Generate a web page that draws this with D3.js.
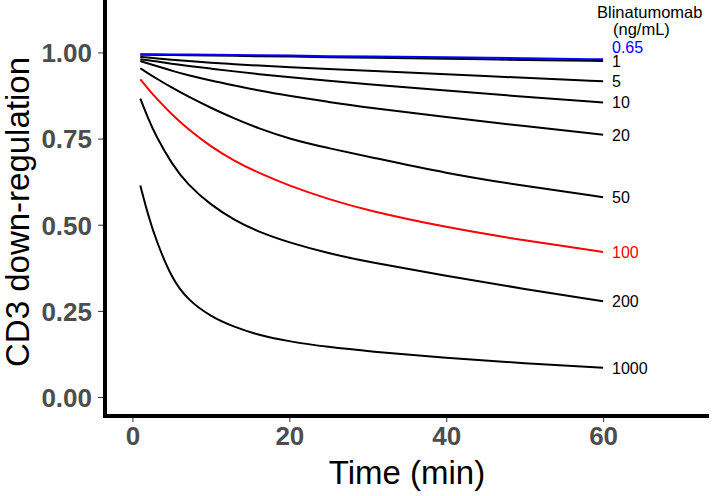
<!DOCTYPE html>
<html>
<head>
<meta charset="utf-8">
<script src="https://cdn.jsdelivr.net/npm/d3@7"></script>
<style>
  body { margin: 0; background: #fff; }
  svg { display: block; font-family: "Liberation Sans", Arial, sans-serif; }
</style>
</head>
<body>
<div class="js-chart"></div>
<script>
(function() {
  // time points (min) at which the curves were read
  var times = [1, 2, 3, 5, 7, 10, 13, 16, 20, 25, 30, 40, 50, 60];

  // concentration labels (ng/mL)
  var concentrations = ['0.65', '1', '5', '10', '20', '50', '100', '200', '1000'];

  var conc065  = [.995, .995, .995, .994, .994, .993, .992, .992, .991, .989, .988, .986, .983, .980]
    , conc1    = [.993, .993, .993, .992, .992, .991, .990, .989, .988, .986, .985, .982, .978, .975]
    , conc5    = [.987, .985, .983, .979, .975, .970, .966, .962, .957, .952, .947, .937, .926, .916]
    , conc10   = [.980, .977, .974, .967, .961, .953, .945, .937, .928, .918, .908, .889, .871, .855]
    , conc20   = [.975, .968, .961, .947, .934, .918, .904, .890, .874, .856, .840, .812, .786, .761]
    , conc50   = [.954, .939, .925, .898, .873, .839, .808, .780, .749, .722, .698, .649, .612, .580]
    , conc100  = [.922, .894, .868, .820, .779, .726, .685, .651, .613, .574, .541, .492, .454, .421]
    , conc200  = [.866, .808, .757, .677, .617, .557, .513, .480, .448, .417, .392, .352, .313, .278]
    , conc1000 = [.614, .527, .456, .344, .283, .233, .203, .180, .161, .145, .133, .113, .098, .085]
    ;

  var seriesValues = [conc065, conc1, conc5, conc10, conc20, conc50, conc100, conc200, conc1000];

  var xTicks = [0, 20, 40, 60]
    , yTicks = [0, 0.25, 0.5, 0.75, 1]
    ;

  var width = 713
    , height = 496
    , panelLeft = 105
    , panelRight = 709
    , panelBottom = 416
    , labelX = 612
    , labelGap = 14
    ;

  function lineColor(c) {
    if (c === '0.65') return '#0000ff';
    if (c === '100') return '#ff0000';
    return '#000000';
  }

  var x = d3.scaleLinear().domain([-3.5, 73.5]).range([panelLeft, panelRight])
    , y = d3.scaleLinear().domain([-0.055, 1.155]).range([panelBottom, -1])
    ;

  var svg = d3.select('.js-chart')
    .append('svg')
      .attr('width', width)
      .attr('height', height);

  // axes
  var xAxis = svg.append('g')
    .attr('transform', 'translate(0,' + (panelBottom + 2) + ')')
    .call(d3.axisBottom(x).tickValues(xTicks).tickSize(4).tickPadding(5).tickFormat(d3.format('d')));

  var yAxis = svg.append('g')
    .attr('transform', 'translate(' + (panelLeft - 2) + ',0)')
    .call(d3.axisLeft(y).tickValues(yTicks).tickSize(5).tickPadding(6).tickFormat(d3.format('.2f')));

  [xAxis, yAxis].forEach(function(g) {
    g.select('.domain').remove();
    g.selectAll('line').attr('stroke', '#333333').attr('stroke-width', 1);
    g.selectAll('text')
      .attr('fill', '#4d4d4d')
      .attr('font-size', 26)
      .attr('font-weight', 'bold')
      .attr('font-family', '"Liberation Sans", Arial, sans-serif');
  });
  yAxis.selectAll('text').attr('dy', '0.36em');
  xAxis.selectAll('text').attr('dy', '0.71em');

  svg.append('line')
    .attr('x1', panelLeft).attr('x2', panelLeft)
    .attr('y1', 0).attr('y2', panelBottom + 2)
    .attr('stroke', '#000').attr('stroke-width', 4);

  svg.append('line')
    .attr('x1', panelLeft - 2).attr('x2', panelRight)
    .attr('y1', panelBottom).attr('y2', panelBottom)
    .attr('stroke', '#000').attr('stroke-width', 4);

  // curves
  var line = d3.line()
    .x(function(d) { return x(d.t); })
    .y(function(d) { return y(d.v); })
    .curve(d3.curveBasis);

  var series = concentrations.map(function(c, i) {
    return {
      label: c,
      color: lineColor(c),
      points: times.map(function(t, j) { return { t: t, v: seriesValues[i][j] }; })
    };
  });

  // black first, then coloured curves on top
  var drawOrder = series.filter(function(s) { return s.color === '#000000'; })
    .concat(series.filter(function(s) { return s.color !== '#000000'; }).reverse());

  svg.append('g')
    .selectAll('path')
    .data(drawOrder)
    .enter()
    .append('path')
      .attr('d', function(s) { return line(s.points); })
      .attr('fill', 'none')
      .attr('stroke', function(s) { return s.color; })
      .attr('stroke-width', 2);

  // end labels, nudged apart when they collide
  var labelY = series.map(function(s) { return y(s.points[s.points.length - 1].v); });
  for (var i = labelY.length - 2; i >= 0; i--) {
    if (labelY[i] > labelY[i + 1] - labelGap) {
      labelY[i] = labelY[i + 1] - labelGap;
    }
  }

  svg.append('g')
    .attr('font-size', 16)
    .selectAll('text')
    .data(series)
    .enter()
    .append('text')
      .attr('x', labelX)
      .attr('y', function(s, i) { return labelY[i]; })
      .attr('dy', '0.36em')
      .attr('fill', function(s) { return s.color; })
      .text(function(s) { return s.label; });

  svg.append('text')
    .attr('x', 597).attr('y', 18)
    .attr('font-size', 16.5)
    .text('Blinatumomab');

  svg.append('text')
    .attr('x', 613).attr('y', 35)
    .attr('font-size', 16.5)
    .text('(ng/mL)');

  // axis titles
  svg.append('text')
    .attr('x', (panelLeft + panelRight) / 2)
    .attr('y', 484)
    .attr('text-anchor', 'middle')
    .attr('font-size', 33)
    .text('Time (min)');

  svg.append('text')
    .attr('transform', 'translate(29,' + 212 + ') rotate(-90)')
    .attr('text-anchor', 'middle')
    .attr('font-size', 33)
    .text('CD3 down-regulation');
})();
</script>
</body>
</html>
